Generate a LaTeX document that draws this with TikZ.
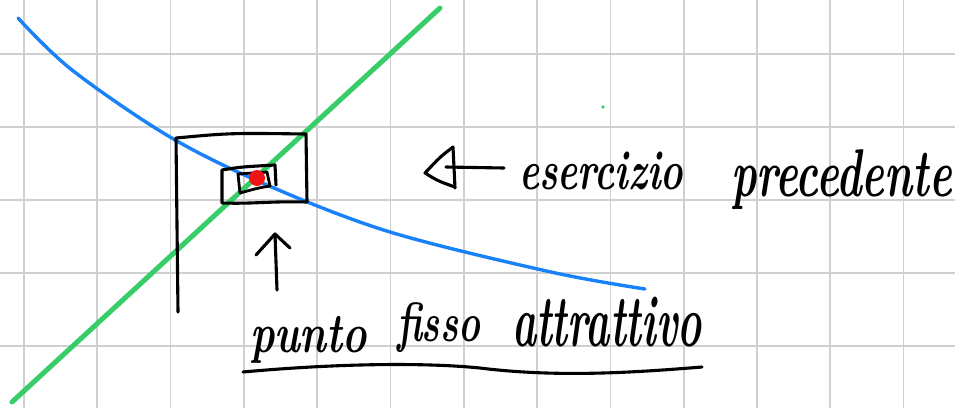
\documentclass[tikz,border=0pt]{standalone}
\usepackage{graphicx}
\definecolor{gridgray}{RGB}{208,208,208}
\definecolor{penblue}{RGB}{25,130,250}
\definecolor{pengreen}{RGB}{55,205,105}
\definecolor{penred}{RGB}{240,20,20}
\tikzset{
  gridline/.style={gridgray, line width=1.7pt},
  ink/.style={black, line width=3.1pt, line cap=round, line join=round},
  bluepen/.style={penblue, line width=3.4pt, line cap=round, line join=round},
  greenpen/.style={pengreen, line width=5pt, line cap=round},
  handtext/.style={inner sep=0pt, outer sep=0pt, anchor=north west, font=\bfseries\itshape},
}
\begin{document}
\begin{tikzpicture}[x=1pt,y=-1pt]
\useasboundingbox (0,0) rectangle (955,408);
\fill[white] (0,0) rectangle (955,408);
% grid paper
\foreach \gx in {0,...,12} \draw[gridline] ({24+73.3*\gx},0) -- ({24+73.3*\gx},408);
\foreach \gy in {0,...,4} \draw[gridline] (0,{54+73*\gy}) -- (955,{54+73*\gy});
% green line (bisector)
\draw[greenpen] (440,8) -- (12,402);
\fill[pengreen] (603,107) circle (1.8);
% blue curve
\draw[bluepen] plot[smooth, tension=0.55] coordinates {(18,18) (72,70) (170,137) (267,185) (390,232) (551,272) (645,289)};
% nested boxes
\draw[ink] (178,312) -- (176,138) .. controls (230,133) .. (306,134) -- (307,202)
  .. controls (270,201) and (255,204) .. (222,203) -- (222,170)
  .. controls (240,167) .. (275,165) -- (276,185);
\draw[ink, line width=2.8pt] (240,193) -- (238,174) -- (267,172) -- (270,186)
  .. controls (258,188) .. (240,193);
% fixed point
\node[circle, fill=penred, minimum size=16pt, inner sep=0pt] (fp) at (257,178) {};
% up arrow
\coordinate (upT) at (275,234);
\coordinate (upB) at (277,290);
\draw[ink] (upB) -- (upT);
\draw[ink] (256,255) -- (upT) -- (290,248);
% left arrow
\coordinate (laTip) at (425,173);
\coordinate (laEnd) at (504,168);
\draw[ink] (446,167) -- (laEnd);
\draw[ink] (453,147) .. controls (440,157) .. (laTip) .. controls (438,181) .. (455,187);
\draw[ink] (453,147) -- (455,188);
% texts
\node[handtext] (t1) at (519,152) {\resizebox*{164pt}{38pt}{esercizio}};
\node[handtext] (t2) at (731,150) {\resizebox*{221pt}{60pt}{precedente}};
\node[handtext] (t3) at (250,316) {\resizebox*{117pt}{47pt}{punto}};
\node[handtext] (t4) at (397,303) {\resizebox*{83pt}{50pt}{fisso}};
\node[handtext] (t5) at (512,297) {\resizebox*{190pt}{50pt}{attrattivo}};
% underline
\draw[ink] (243,372) .. controls (330,364) and (420,362) .. (480,368)
  .. controls (560,378) and (640,372) .. (702,367);
\end{tikzpicture}
\end{document}
